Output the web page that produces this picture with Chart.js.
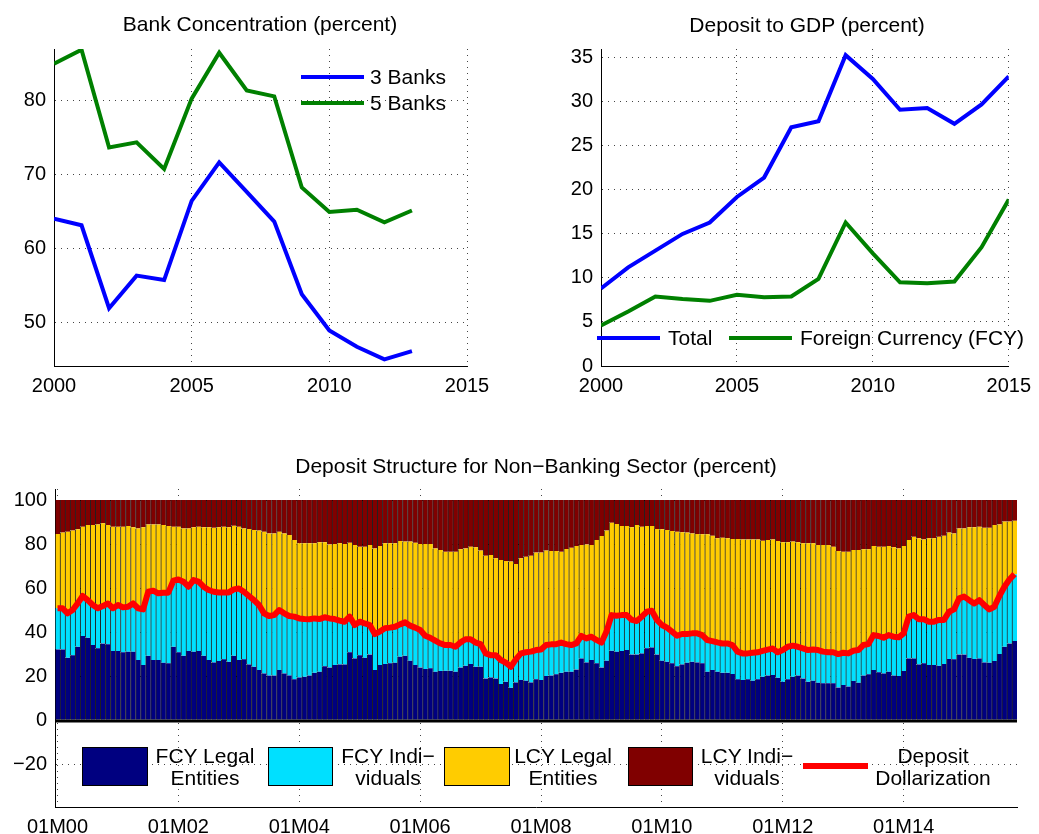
<!DOCTYPE html>
<html>
<head>
<meta charset="utf-8">
<script src="https://cdn.jsdelivr.net/npm/chart.js@4.4.0/dist/chart.umd.min.js"></script>
<style>
  body { margin: 0; background: #fff; font-family: "Liberation Sans", Arial, sans-serif; }
  #wrap { position: relative; width: 1039px; height: 834px; overflow: hidden; background: #fff; }
  canvas { position: absolute; }
  .title { position: absolute; font-size: 21px; line-height: 24px; white-space: nowrap; transform: translateX(-50%); color: #000; }
  .txt { position: absolute; font-size: 21px; line-height: 24px; white-space: nowrap; color: #000; }
  .ctxt { position: absolute; font-size: 21px; line-height: 22px; white-space: nowrap; text-align: center; transform: translateX(-50%); color: #000; }
  .ln { position: absolute; height: 4px; }
  .box { position: absolute; box-sizing: border-box; border: 1px solid #000; height: 39px; }
</style>
</head>
<body>
<div id="wrap">
  <canvas id="c1" width="520" height="410" style="left:0;top:0"></canvas>
  <canvas id="c2" width="519" height="410" style="left:520px;top:0"></canvas>
  <canvas id="c3" width="1039" height="404" style="left:0;top:430px"></canvas>

  <div class="title" style="left:260px;top:12px">Bank Concentration (percent)</div>
  <div class="title" style="left:807px;top:13px">Deposit to GDP (percent)</div>
  <div class="title" style="left:536px;top:454px">Deposit Structure for Non−Banking Sector (percent)</div>

  <!-- legend, top left -->
  <div class="ln" style="left:301px;top:75px;width:63px;background:#0000ff"></div>
  <div class="txt" style="left:370px;top:65px">3 Banks</div>
  <div class="ln" style="left:301px;top:101px;width:63px;background:#008000"></div>
  <div class="txt" style="left:370px;top:91px">5 Banks</div>

  <!-- legend, top right -->
  <div class="ln" style="left:597px;top:336px;width:63px;background:#0000ff"></div>
  <div class="txt" style="left:668px;top:326px">Total</div>
  <div class="ln" style="left:729px;top:336px;width:63px;background:#008000"></div>
  <div class="txt" style="left:800px;top:326px">Foreign Currency (FCY)</div>

  <!-- legend, bottom -->
  <div class="box" style="left:82px;top:747px;width:66px;background:#000080"></div>
  <div class="ctxt" style="left:205px;top:745px">FCY Legal<br>Entities</div>
  <div class="box" style="left:268px;top:747px;width:65px;background:#00e0ff"></div>
  <div class="ctxt" style="left:388px;top:745px">FCY Indi−<br>viduals</div>
  <div class="box" style="left:444px;top:747px;width:66px;background:#ffcc00"></div>
  <div class="ctxt" style="left:563px;top:745px">LCY Legal<br>Entities</div>
  <div class="box" style="left:628px;top:747px;width:65px;background:#800000"></div>
  <div class="ctxt" style="left:747px;top:745px">LCY Indi−<br>viduals</div>
  <div class="ln" style="left:803px;top:763px;width:65px;height:6px;background:#ff0000"></div>
  <div class="ctxt" style="left:933px;top:745px">Deposit<br>Dollarization</div>
</div>

<script>
// top charts: yearly data
var bankYears = [2000, 2001, 2002, 2003, 2004, 2005, 2006, 2007, 2008, 2009, 2010, 2011, 2012, 2013];
var bank3 = [64.0, 63.1, 51.9, 56.3, 55.7, 66.4, 71.6, 67.6, 63.6, 53.8, 48.9, 46.7, 45.0, 46.1];
var bank5 = [84.9, 86.8, 73.6, 74.3, 70.7, 80.2, 86.4, 81.3, 80.5, 68.2, 64.9, 65.2, 63.5, 65.1];

var depYears = [2000, 2001, 2002, 2003, 2004, 2005, 2006, 2007, 2008, 2009, 2010, 2011, 2012, 2013, 2014, 2015];
var depTotal = [8.8, 11.2, 13.1, 15.0, 16.3, 19.2, 21.4, 27.1, 27.8, 35.3, 32.6, 29.1, 29.3, 27.5, 29.7, 32.9];
var depFcy = [4.6, 6.2, 7.9, 7.6, 7.4, 8.1, 7.8, 7.9, 9.9, 16.3, 12.8, 9.5, 9.4, 9.6, 13.5, 18.9];

var yearTicks = [2000, 2005, 2010, 2015];
var bankTicks = [50, 60, 70, 80];
var depTicks = [0, 5, 10, 15, 20, 25, 30, 35];

// bottom chart: monthly shares, Jan 2000 onwards (percent)
var fcyLegal = [
  32.1, 32.1, 28.3, 29.5, 33.3, 38.2, 37.4, 34.1, 32.6, 34.8,
  34.5, 31.4, 31.4, 30.8, 31.1, 31.1, 27.3, 25.0, 29.2, 27.3,
  27.3, 26.1, 25.8, 33.3, 30.8, 29.2, 31.4, 31.1, 31.4, 29.2,
  27.3, 26.2, 26.8, 27.6, 26.5, 29.2, 27.3, 27.6, 25.3, 24.2,
  22.7, 21.2, 20.2, 20.2, 22.7, 21.2, 20.3, 18.6, 19.4, 19.7,
  20.2, 21.5, 22.0, 24.5, 23.9, 25.0, 25.3, 25.3, 30.8, 28.0,
  29.5, 28.3, 29.8, 22.7, 25.0, 25.5, 25.8, 26.1, 28.8, 29.2,
  27.0, 25.0, 23.9, 23.2, 23.5, 22.0, 22.3, 22.4, 22.4, 22.0,
  23.9, 24.7, 25.5, 24.2, 24.2, 18.9, 19.4, 18.9, 16.4, 17.4,
  14.7, 17.1, 18.2, 17.9, 17.1, 18.5, 18.2, 20.0, 20.2, 20.8,
  21.5, 22.0, 22.0, 23.0, 28.0, 26.2, 27.3, 25.8, 23.9, 27.0,
  31.5, 31.1, 31.4, 31.8, 29.8, 29.8, 30.3, 32.6, 33.0, 29.8,
  27.0, 26.5, 25.8, 24.5, 25.3, 26.1, 26.5, 26.2, 25.8, 22.0,
  22.7, 22.0, 21.5, 21.5, 20.9, 18.5, 18.2, 18.5, 17.9, 18.5,
  19.7, 20.2, 20.5, 19.2, 17.4, 18.6, 19.7, 20.2, 18.9, 17.4,
  17.9, 17.0, 16.7, 16.7, 16.7, 14.8, 15.9, 15.2, 17.7, 17.0,
  20.2, 20.8, 22.7, 21.7, 21.2, 22.0, 20.2, 20.0, 22.3, 28.0,
  28.0, 25.3, 25.8, 25.0, 25.0, 24.7, 25.5, 27.7, 27.6, 29.8,
  29.8, 28.3, 27.7, 28.0, 26.2, 26.1, 26.8, 30.0, 33.3, 34.8, 35.9
];
// FCY legal + FCY individuals (red line)
var dollarization = [
  50.8, 50.8, 48.5, 50.0, 53.0, 56.4, 54.5, 52.3, 50.8, 51.8,
  53.0, 50.8, 52.3, 51.2, 51.5, 53.0, 50.8, 50.3, 58.3, 58.8,
  57.6, 57.9, 57.9, 63.3, 63.9, 62.9, 60.6, 63.6, 62.9, 60.6,
  59.1, 58.3, 58.0, 58.0, 58.0, 59.4, 59.8, 58.3, 56.4, 54.5,
  52.3, 48.5, 47.3, 47.7, 50.0, 48.5, 47.3, 47.0, 46.2, 45.9,
  45.8, 46.2, 45.9, 46.7, 46.2, 45.9, 45.2, 44.7, 47.0, 43.2,
  44.7, 43.9, 43.2, 39.1, 40.2, 41.7, 42.0, 42.4, 43.5, 44.4,
  42.9, 42.0, 40.9, 38.3, 37.4, 36.1, 34.8, 34.1, 34.1, 33.3,
  35.3, 36.7, 36.7, 35.2, 34.5, 30.3, 29.5, 29.5, 27.3, 26.1,
  24.2, 27.6, 30.3, 30.8, 31.1, 31.8, 32.1, 34.1, 34.4, 34.5,
  35.2, 34.5, 34.1, 34.8, 38.3, 37.1, 37.9, 36.4, 35.2, 40.2,
  47.7, 47.4, 47.7, 47.7, 45.5, 45.0, 47.0, 49.2, 49.7, 45.5,
  43.2, 42.0, 40.2, 38.3, 39.1, 39.1, 39.4, 39.4, 38.6, 36.4,
  35.9, 35.3, 34.8, 34.8, 34.1, 31.1, 30.3, 30.3, 30.6, 30.8,
  31.4, 32.0, 32.5, 30.8, 31.8, 33.3, 33.8, 33.3, 32.6, 31.8,
  32.1, 31.8, 31.1, 30.8, 30.8, 30.0, 30.6, 30.3, 31.5, 31.8,
  34.1, 34.5, 38.6, 38.2, 37.4, 38.6, 37.9, 37.6, 39.4, 47.0,
  47.7, 45.8, 45.8, 44.7, 44.7, 45.5, 45.5, 49.2, 50.3, 55.3,
  56.1, 54.5, 53.0, 54.5, 52.3, 50.3, 51.5, 56.4, 60.6, 63.9, 66.3
];
var lcyIndiv = [
  15.5, 14.8, 14.4, 13.9, 13.3, 12.1, 11.4, 11.4, 11.1, 10.6,
  11.4, 12.1, 12.1, 12.1, 11.8, 12.4, 12.9, 12.4, 11.1, 11.1,
  11.1, 11.4, 11.8, 12.1, 12.1, 12.9, 12.9, 12.4, 12.1, 12.4,
  12.4, 12.6, 12.4, 12.1, 12.4, 11.7, 12.1, 12.9, 13.2, 13.6,
  13.9, 14.4, 15.2, 15.2, 14.4, 15.2, 15.9, 18.2, 19.7, 19.7,
  19.7, 19.7, 19.2, 19.2, 20.2, 20.0, 19.7, 20.0, 19.4, 20.5,
  21.2, 21.2, 20.5, 22.0, 20.9, 19.7, 19.7, 19.7, 18.6, 18.9,
  18.9, 19.4, 20.0, 20.0, 20.0, 22.0, 22.7, 23.5, 23.5, 23.5,
  22.4, 22.0, 21.2, 21.5, 23.0, 25.3, 25.0, 26.5, 27.3, 27.7,
  28.0, 29.1, 26.5, 25.8, 25.3, 23.9, 23.9, 23.0, 23.2, 23.2,
  23.5, 22.3, 21.7, 20.9, 20.5, 20.2, 20.5, 18.2, 16.4, 13.9,
  10.3, 10.9, 11.8, 11.8, 12.4, 11.4, 12.1, 11.8, 11.8, 13.2,
  13.3, 13.6, 14.1, 14.4, 14.7, 14.8, 15.2, 15.5, 15.6, 15.6,
  16.2, 17.4, 17.1, 17.4, 17.7, 17.7, 17.9, 17.9, 17.9, 17.9,
  18.5, 18.2, 17.9, 18.6, 19.2, 19.2, 18.9, 19.2, 19.7, 19.7,
  19.7, 20.5, 20.5, 20.5, 21.2, 23.2, 23.5, 23.5, 22.7, 22.7,
  22.4, 22.4, 20.9, 21.2, 21.2, 20.9, 21.5, 22.0, 20.9, 18.2,
  16.7, 17.4, 17.9, 17.4, 17.4, 16.7, 16.2, 14.8, 15.2, 12.9,
  12.9, 12.4, 12.4, 12.1, 12.6, 12.6, 11.4, 11.1, 9.8, 9.8, 9.4
];
var xTickLabels = ["01M00", "01M02", "01M04", "01M06", "01M08", "01M10", "01M12", "01M14"];
var structTicks = [-20, 0, 20, 40, 60, 80, 100];

Chart.defaults.font.family = '"Liberation Sans", Arial, sans-serif';
Chart.defaults.font.size = 20;
Chart.defaults.color = "#000";

function minus(v) {
  return v < 0 ? "\u2212" + Math.abs(v) : String(v);
}

function axis(extra) {
  var base = {
    grid: { color: "#444", lineWidth: 1, drawTicks: false },
    border: { color: "#000", width: 1, dash: [1, 5] },
    ticks: { color: "#000", padding: 8, maxRotation: 0, callback: minus }
  };
  return Object.assign(base, extra);
}

function lineSet(label, xs, ys, color) {
  return {
    label: label,
    data: xs.map(function(x, i) { return { x: x, y: ys[i] }; }),
    borderColor: color,
    borderWidth: 4,
    pointRadius: 0,
    tension: 0
  };
}

var common = {
  responsive: false,
  animation: false,
  devicePixelRatio: 1,
  plugins: { legend: { display: false }, tooltip: { enabled: false } }
};

// Bank concentration
new Chart(document.getElementById("c1"), {
  type: "line",
  data: { datasets: [
    lineSet("3 Banks", bankYears, bank3, "#0000ff"),
    lineSet("5 Banks", bankYears, bank5, "#008000")
  ] },
  options: Object.assign({}, common, {
    layout: { padding: { top: 49, right: 53, left: 0, bottom: 0 } },
    scales: {
      x: axis({ type: "linear", min: 2000, max: 2015,
        afterBuildTicks: function(s) { s.ticks = yearTicks.map(function(v) { return { value: v }; }); },
        afterFit: function(s) { s.height = 44; } }),
      y: axis({ min: 44.1, max: 86.9,
        afterBuildTicks: function(s) { s.ticks = bankTicks.map(function(v) { return { value: v }; }); },
        afterFit: function(s) { s.width = 54; } })
    }
  })
});

// Deposit to GDP
new Chart(document.getElementById("c2"), {
  type: "line",
  data: { datasets: [
    lineSet("Total", depYears, depTotal, "#0000ff"),
    lineSet("Foreign Currency (FCY)", depYears, depFcy, "#008000")
  ] },
  options: Object.assign({}, common, {
    layout: { padding: { top: 49, right: 26, left: 0, bottom: 0 } },
    scales: {
      x: axis({ type: "linear", min: 2000, max: 2015,
        afterBuildTicks: function(s) { s.ticks = yearTicks.map(function(v) { return { value: v }; }); },
        afterFit: function(s) { s.height = 44; } }),
      y: axis({ min: 0, max: 36,
        afterBuildTicks: function(s) { s.ticks = depTicks.map(function(v) { return { value: v }; }); },
        afterFit: function(s) { s.width = 81; } })
    }
  })
});

// Deposit structure: month labels like 01M00
var months = [];
for (var k = 0; k < fcyLegal.length; k++) {
  var mm = String(k % 12 + 1).padStart(2, "0");
  var yy = String(Math.floor(k / 12)).padStart(2, "0");
  months.push(mm + "M" + yy);
}

function barSet(label, color, data) {
  return {
    type: "bar",
    label: label,
    data: data,
    backgroundColor: color,
    borderColor: "rgba(0,0,0,0.85)",
    borderWidth: { left: 1, right: 0, top: 0, bottom: 0 },
    borderSkipped: false,
    grouped: false,
    barPercentage: 1,
    categoryPercentage: 1,
    order: 1
  };
}

var zeroLine = {
  id: "zeroLine",
  afterDatasetsDraw: function(chart) {
    var ctx = chart.ctx, a = chart.chartArea;
    var y = chart.scales.y.getPixelForValue(0);
    ctx.save();
    ctx.strokeStyle = "#000";
    ctx.lineWidth = 3;
    ctx.beginPath();
    ctx.moveTo(a.left, y + 1);
    ctx.lineTo(a.right, y + 1);
    ctx.stroke();
    ctx.restore();
  }
};

new Chart(document.getElementById("c3"), {
  type: "bar",
  data: {
    labels: months,
    datasets: [
      {
        type: "line",
        label: "Deposit Dollarization",
        data: dollarization,
        borderColor: "#ff0000",
        borderWidth: 6,
        pointRadius: 0,
        tension: 0,
        borderJoinStyle: "round",
        order: 0
      },
      barSet("FCY Legal Entities", "#000080", fcyLegal.map(function(v) { return [0, v]; })),
      barSet("FCY Individuals", "#00e0ff", fcyLegal.map(function(v, i) { return [v, dollarization[i]]; })),
      barSet("LCY Legal Entities", "#ffcc00", dollarization.map(function(v, i) { return [v, 100 - lcyIndiv[i]]; })),
      barSet("LCY Individuals", "#800000", lcyIndiv.map(function(v) { return [100 - v, 100]; }))
    ]
  },
  options: Object.assign({}, common, {
    layout: { padding: { top: 59, right: 22, left: 0, bottom: 0 } },
    scales: {
      x: {
        type: "category",
        offset: true,
        grid: {
          offset: false, drawTicks: false, lineWidth: 1,
          color: function(c) { return xTickLabels.indexOf(months[c.index]) >= 0 ? "#444" : "rgba(0,0,0,0)"; }
        },
        border: { color: "#000", width: 1, dash: [1, 5] },
        ticks: {
          autoSkip: false, maxRotation: 0, minRotation: 0, padding: 8, color: "#000",
          callback: function(v, i) { return xTickLabels.indexOf(months[i]) >= 0 ? months[i] : ""; }
        },
        afterFit: function(s) { s.height = 27; }
      },
      y: axis({ min: -39.5, max: 105,
        afterBuildTicks: function(s) { s.ticks = structTicks.map(function(v) { return { value: v }; }); },
        afterFit: function(s) { s.width = 55; } })
    }
  }),
  plugins: [zeroLine]
});
</script>
</body>
</html>
